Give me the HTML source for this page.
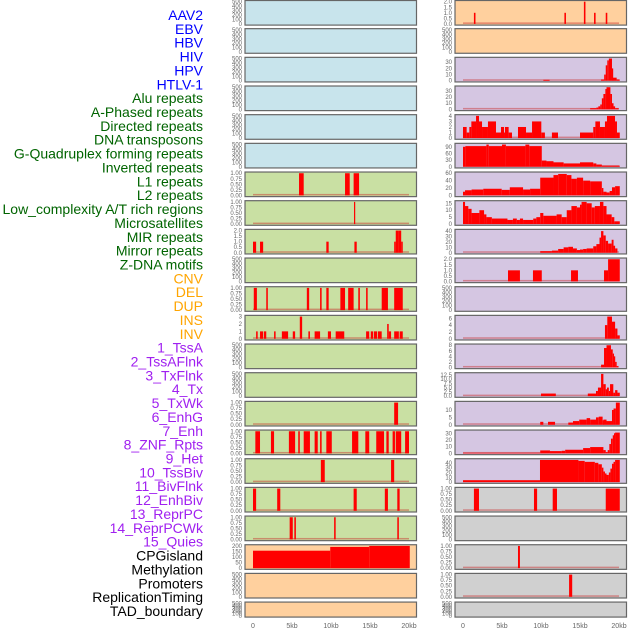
<!DOCTYPE html>
<html><head><meta charset="utf-8"><style>
html,body{margin:0;padding:0;background:#fff;width:630px;height:630px;overflow:hidden}
svg{display:block;font-family:"Liberation Sans",sans-serif}
</style></head><body>
<svg id="chart" width="630" height="630" viewBox="0 0 630 630"></svg>
<script>
const labelTexts=["AAV2","EBV","HBV","HIV","HPV","HTLV-1","Alu repeats","A-Phased repeats","Directed repeats","DNA transposons","G-Quadruplex forming repeats","Inverted repeats","L1 repeats","L2 repeats","Low_complexity A/T rich regions","Microsatellites","MIR repeats","Mirror repeats","Z-DNA motifs","CNV","DEL","DUP","INS","INV","1_TssA","2_TssAFlnk","3_TxFlnk","4_Tx","5_TxWk","6_EnhG","7_Enh","8_ZNF_Rpts","9_Het","10_TssBiv","11_BivFlnk","12_EnhBiv","13_ReprPC","14_ReprPCWk","15_Quies","CPGisland","Methylation","Promoters","ReplicationTiming","TAD_boundary"];
const labelGroups=[6,13,5,15,5];
const xTickLabels=["0","5kb","10kb","15kb","20kb"];
const xTickValues=[0,5,10,15,20];

// left column data (kb start, kb end, value)
const L7=[[5.9,6.5,1],[11.8,12.4,1],[12.9,13.6,1]];
const L8=[[12.95,13.1,1]];
const L9=[[0,0.4,1],[0.9,1.3,1],[9.4,9.7,1],[13,13.3,1],[18.1,18.3,1],[18.3,18.7,2],[18.7,19,2],[19,19.2,1]];
const L11=[[0.1,0.5,1],[1.7,1.9,1],[6.9,7.2,1],[8.6,8.8,1],[9.4,9.7,1],[11.2,11.8,1],[12.2,12.9,1],[13.5,13.7,1],[14.5,14.7,1],[16.5,17.3,1],[18.1,19.2,1]];
const L12=[[0.4,0.6,1],[0.9,1.3,1],[1.4,1.7,1],[2.7,2.9,1],[3.7,4.5,1],[5.1,5.4,1],[6.0,6.3,3],[7.1,7.3,1],[7.9,8.6,1],[9.6,10.0,1],[10.6,11.7,1],[14.5,14.9,1],[15.1,15.4,1],[15.5,15.9,1],[16.0,16.5,1],[17.2,17.4,2],[17.4,17.7,1],[18.1,18.7,1],[18.8,19.2,1]];
const L15=[[18.1,18.6,1]];
const L16=[[0.3,0.9,1],[2.3,2.7,1],[4.6,5.4,1],[5.8,6.0,1],[6.5,7.3,1],[7.9,8.3,1],[8.6,8.8,1],[9.4,10.1,1],[12.7,13.5,1],[14.4,14.9,1],[15.8,16.8,1],[17.1,17.4,1],[17.9,18.2,1],[18.3,19.0,1],[19.5,20.0,1]];
const L17=[[8.7,9.2,1],[17.7,18.1,1]];
const L18=[[0,0.4,1],[3.1,3.5,1],[12.9,13.3,1],[16.9,17.3,1],[18.5,18.8,1]];
const L19=[[4.7,5.1,1],[5.3,5.5,1],[10.4,10.6,1],[18.5,18.7,1]];
const L20=[[0,9.9,157],[9.9,14.9,191],[14.9,20.1,200]];

// right column data
const R1=[[1.4,1.6,1],[13.0,13.2,1],[15.5,15.7,2],[16.8,17.0,1],[18.3,18.5,1]];
const R3=[[10.3,11.1,1.5],[17.7,18.1,2],[18.1,18.3,10],[18.3,18.5,25],[18.5,18.7,33],[18.7,19.1,36],[19.1,19.2,20],[19.2,19.7,5],[19.7,20.1,2]];
const R4=[[16.3,17.1,2],[17.1,17.35,3],[17.35,17.6,5],[17.6,17.8,8],[17.8,18.0,18],[18.0,18.25,25],[18.25,18.4,33],[18.4,18.9,36],[18.9,19.1,25],[19.1,19.3,10],[19.3,19.5,5],[19.5,19.95,2]];
const R5=[[0,0.47,2],[0.47,0.81,1],[0.81,1.07,2],[1.07,1.67,3],[1.67,2.05,4],[2.05,2.44,3],[2.44,3.2,2],[3.2,4.23,3],[4.23,4.87,1],[4.87,5.26,2],[5.26,5.38,1],[5.38,5.85,2],[5.85,6.28,1],[7.05,8.08,2],[8.08,8.85,1],[8.85,10.04,3],[10.04,10.5,1],[11.4,12.18,1],[15.0,16.7,1],[16.7,16.97,2],[16.97,17.56,3],[17.56,18.2,2],[18.2,18.46,3],[18.46,19.49,4],[19.49,19.74,3],[19.74,20.1,1]];
const R6=[[0,0.3,90],[0.3,3,93],[3,3.3,100],[3.3,5,93],[5,5.5,100],[5.5,8,93],[8,8.5,100],[8.5,10.1,93],[10.1,10.7,28],[10.7,11.6,25],[11.6,12.9,20],[12.9,15,15],[15,16.7,20],[16.7,17.1,15],[17.1,17.8,10],[17.8,20.1,5]];
const R7=[[0,0.26,10],[0.26,1.1,14],[1.1,2.6,16],[2.6,4.96,18],[4.96,6.0,15],[6.0,7.7,22],[7.7,8.6,16],[8.6,9.9,18],[9.9,11.6,48],[11.6,12.2,55],[12.2,13.3,58],[13.3,13.9,55],[13.9,14.6,45],[14.6,15.4,48],[15.4,16.3,40],[16.3,17.8,38],[17.8,18.0,20],[18.0,18.4,10],[18.4,18.8,8],[18.8,19.1,12],[19.1,19.5,22],[19.5,20.1,25]];
const R8=[[0,0.26,16],[0.26,0.68,13],[0.68,1.1,11],[1.1,2.1,8],[2.1,2.7,10],[2.7,3.0,7],[3.0,3.7,5],[3.7,5.7,4],[5.7,6.4,3],[6.4,6.9,4],[6.9,7.3,3],[7.3,7.7,4],[7.7,9.0,3],[9.0,9.4,4],[9.4,9.9,5],[9.9,10.3,8],[10.3,12.0,6],[12.0,12.65,7],[12.65,13.3,5],[13.3,13.9,10],[13.9,14.6,13],[14.6,15.0,12],[15.0,15.2,14],[15.2,15.85,16],[15.85,16.5,15],[16.5,16.9,12],[16.9,17.56,13],[17.56,18.0,16],[18.0,18.4,13],[18.4,19.06,7],[19.06,19.4,5],[19.4,20.1,2]];
const R9=[[9.9,11.4,3],[11.4,12.2,4],[12.2,12.9,7],[12.9,13.5,10],[13.5,14.1,11],[14.1,14.6,8],[14.6,15.0,5],[15.0,15.4,6],[15.4,15.85,7],[15.85,16.7,8],[16.7,17.1,12],[17.1,17.5,16],[17.5,17.7,28],[17.7,18.0,40],[18.0,18.3,32],[18.3,18.6,22],[18.6,19.06,17],[19.06,19.3,24],[19.3,19.5,13],[19.5,19.8,8]];
const R10=[[5.77,7.3,1],[8.97,10.1,1],[13.85,14.74,1],[18.08,18.6,1],[18.6,20.1,2]];
const R12=[[18.2,18.5,4],[18.5,19.1,6.5],[19.1,19.5,5],[19.5,19.8,3],[19.8,20.1,1]];
const R13=[[17.7,18.08,1],[18.08,18.4,7],[18.4,18.97,8],[18.97,19.2,6.5],[19.2,19.36,5],[19.36,19.5,4],[19.5,19.7,2],[19.7,19.9,0.5]];
const R14=[[10,11.9,1.5],[16.0,17.05,1.5],[17.05,17.3,3],[17.3,17.7,5],[17.7,18.0,13],[18.0,18.3,7],[18.3,18.46,4],[18.46,18.7,5],[18.7,18.85,3],[18.85,19.27,7],[19.27,19.5,2],[19.5,19.8,3.5],[19.8,20.1,2]];
const R15=[[9.9,10.3,2],[10.9,11.8,2],[13.5,14.1,1.5],[14.1,14.9,2.5],[14.9,15.85,3.5],[15.85,16.3,4.5],[16.3,17.05,3.5],[17.05,17.4,5],[17.4,17.9,5.5],[17.9,18.0,3],[18.0,18.4,3.5],[18.4,19.1,2.5],[19.1,19.3,10],[19.3,19.6,11],[19.6,20.1,15]];
const R16=[[0,9.9,1],[9.9,11.15,4.5],[11.15,12.65,3.5],[12.65,13.1,4],[13.1,15.4,5.5],[15.4,16.3,8],[16.3,18.0,9.5],[18.0,18.3,5],[18.3,18.55,2],[18.55,18.76,5],[18.76,18.97,14],[18.97,19.2,22],[19.2,19.36,27],[19.36,19.5,30],[19.5,20.1,31]];
const R17=[[0,9.87,4],[9.87,14.8,46],[14.8,15.6,44],[15.6,16.9,42],[16.9,17.35,40],[17.35,17.8,37],[17.8,18.0,30],[18.0,18.2,22],[18.2,18.4,18],[18.4,18.7,15],[18.7,18.9,20],[18.9,19.1,28],[19.1,19.3,38],[19.3,19.5,42],[19.5,20.1,46]];
const R18=[[1.4,2.05,1],[9.1,9.5,1],[11.5,12.05,1],[18.3,20.1,1]];
const R20=[[7.05,7.3,1]];
const R21=[[13.6,14.0,1]];

const tEmpty=["0","100","200","300","400","500"];
const t01=["0.00","0.25","0.50","0.75","1.00"];
const t02=["0.0","0.5","1.0","1.5","2.0"];

const BLUE="#c8e4ec",GREEN="#c9e0a3",PEACH="#ffd09e",PURP="#d5c6e2",GRAY="#d0d0d0";
const leftPanels=[
 [null,500,tEmpty,BLUE],[null,500,tEmpty,BLUE],[null,500,tEmpty,BLUE],[null,500,tEmpty,BLUE],[null,500,tEmpty,BLUE],[null,500,tEmpty,BLUE],
 [L7,1,t01,GREEN],[L8,1,t01,GREEN],[L9,2,t02,GREEN],[null,500,tEmpty,GREEN],[L11,1,t01,GREEN],[L12,3,["0","1","2","3"],GREEN],
 [null,500,tEmpty,GREEN],[null,500,tEmpty,GREEN],[L15,1,t01,GREEN],[L16,1,t01,GREEN],[L17,1,t01,GREEN],[L18,1,t01,GREEN],[L19,1,t01,GREEN],
 [L20,200,["0","50","100","150","200"],PEACH],[null,500,tEmpty,PEACH],[null,500,tEmpty,PEACH]];
const rightPanels=[
 [R1,2,t02,PEACH],[null,500,tEmpty,PEACH],
 [R3,36,["0","10","20","30"],PURP],[R4,36,["0","10","20","30"],PURP],[R5,4,["0","1","2","3","4"],PURP],
 [R6,100,["0","30","60","90"],PURP],[R7,60,["0","20","40","60"],PURP],[R8,16,["0","5","10","15"],PURP],
 [R9,41,["0","10","20","30","40"],PURP],[R10,2,t02,PURP],[null,500,tEmpty,PURP],[R12,6.5,["0","2","4","6"],PURP],
 [R13,8,["0","2","4","6","8"],PURP],[R14,13,["0.0","2.5","5.0","7.5","10.0","12.5"],PURP],[R15,15,["0","5","10"],PURP],
 [R16,33,["0","10","20","30"],PURP],[R17,46,["0","10","20","30","40"],PURP],
 [R18,1,t01,GRAY],[null,500,tEmpty,GRAY],[R20,1,t01,GRAY],[R21,1,t01,GRAY],[null,500,tEmpty,GRAY]];

const NS="http://www.w3.org/2000/svg";
const svg=document.getElementById('chart');
function mk(tag,attrs,parent){const e=document.createElementNS(NS,tag);for(const k in attrs)e.setAttribute(k,attrs[k]);(parent||svg).appendChild(e);return e;}

// labels
const groupColors=["#0000ff","#006400","#ffa500","#a020f0","#000000"];
let gi=0,gc=0;
labelTexts.forEach((t,i)=>{
  while(gc>=labelGroups[gi]){gi++;gc=0;}
  gc++;
  const el=mk('text',{x:203,y:20+i*13.86,'text-anchor':'end','font-size':'14',fill:groupColors[gi]});
  el.textContent=t;
  
  
});

function rowTop(i){return i*28.67;}
function drawCol(panels,px,colName){
  const x0=px+8, kbW=7.8;
  const xs=kb=>x0+kb*kbW;
  panels.forEach((p,i)=>{
    const [data,ymax,ticks,col]=p;
    const top=i===0?0.5:rowTop(i);
    const h=i===21?15:24.6;
    const g=mk('g',{});
    
    
    mk('rect',{x:px,y:top,width:171.5,height:h,fill:col,stroke:'#666','stroke-width':1.2},g);
    const bot=top+h-1.2, ph=h-2.4;
    const ys=v=>bot-Math.min(v,ymax)/ymax*ph;
    ticks.forEach(t=>{
      const v=parseFloat(t);
      const tt=mk('text',{x:px-3,y:ys(v)+2,'text-anchor':'end','font-size':'6',fill:'#666'},g);
      tt.textContent=t;
      
      
    });
    if(data){
      const bl=mk('rect',{x:xs(0),y:bot-1.5,width:xs(20)-xs(0),height:1.5,fill:'rgba(200,40,40,0.45)'},g);
      
      
      data.forEach(d=>{
        const y=ys(d[2]);
        const r=mk('rect',{x:xs(d[0]),y:y,width:Math.max(1.2,xs(d[1])-xs(d[0])),height:bot-y,fill:'#ff0000'},g);
        
        
      });
    }
  });
  xTickValues.forEach((v,k)=>{
    const t=mk('text',{x:xs(v),y:628,'text-anchor':'middle','font-size':'7',fill:'#666'});
    t.textContent=xTickLabels[k];
    
    
  });
}
drawCol(leftPanels,245,'left');
drawCol(rightPanels,455,'right');
</script>
</body></html>
